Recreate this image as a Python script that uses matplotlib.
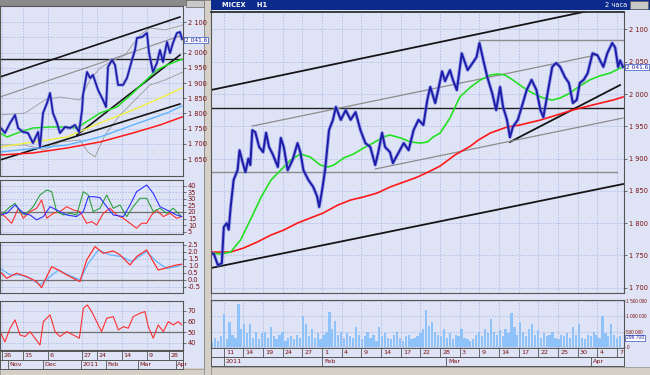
import matplotlib
matplotlib.use('Agg')
import matplotlib.pyplot as plt
from matplotlib.patches import Rectangle
import numpy as np

# ---------------- DATA ----------------
# Right chart (2-hour bars, x = bar index, bar 0 = 11 Jan)
r_price_x = [-13, -10, -6, -2, 0, 3, 5, 7, 10, 14, 16, 19, 22, 25, 27, 29, 32, 36, 40, 43, 46, 50, 55, 58, 61,
             65, 70, 75, 78, 81, 86, 91, 95, 97, 100, 103, 107, 111, 114, 119, 124, 129, 134, 139, 144, 149,
             154, 157, 161, 164, 169, 172, 178, 183, 188, 193, 198, 203, 207, 210, 215, 218, 222, 225, 230,
             233, 237, 242, 248, 253, 257, 260, 264, 268, 273, 277, 281, 284, 288, 291, 294, 299, 303, 308,
             313, 318, 322, 325, 328, 334, 338, 342, 347, 351, 355, 359, 362, 366, 370, 375, 380, 386, 390,
             395, 398, 401, 403, 406]
r_price_y = [1754, 1752, 1735, 1738, 1794, 1800, 1790, 1825, 1867, 1882, 1913, 1895, 1879, 1900, 1890, 1944,
             1941, 1918, 1910, 1940, 1918, 1906, 1887, 1932, 1918, 1882, 1898, 1924, 1909, 1882, 1867, 1856,
             1841, 1825, 1851, 1882, 1944, 1960, 1980, 1960, 1975, 1960, 1972, 1944, 1924, 1918, 1890, 1909,
             1940, 1918, 1910, 1893, 1910, 1924, 1913, 1944, 1960, 1952, 1991, 2011, 1986, 2006, 2035, 2020,
             2037, 2022, 2006, 2063, 2037, 2048, 2057, 2079, 2052, 2026, 2001, 1975, 2011, 1980, 1960, 1933,
             1949, 1960, 1980, 2006, 2022, 2006, 1975, 1964, 1990, 2042, 2048, 2042, 2026, 2017, 1986, 1991,
             2017, 2022, 2032, 2063, 2060, 2042, 2063, 2079, 2072, 2042, 2052, 2042]
r_green_x = [-13, -3, 7, 17, 27, 38, 48, 58, 68, 78, 88, 98, 106, 112, 122, 132, 142, 152, 162, 169, 180, 190,
             200, 207, 213, 220, 230, 240, 251, 261, 271, 279, 286, 294, 304, 314, 325, 334, 342, 352, 362,
             372, 382, 393, 403, 406]
r_green_y = [1753.8, 1752.2, 1755.3, 1773.9, 1804.9, 1840.5, 1866.8, 1882.3, 1897.8, 1907.1, 1902.4, 1890.1,
             1887.0, 1890.1, 1900.9, 1907.1, 1916.4, 1924.1, 1933.4, 1936.5, 1931.9, 1925.7, 1924.1, 1925.7,
             1933.4, 1939.6, 1962.8, 1995.4, 2010.8, 2021.7, 2029.4, 2031.0, 2029.4, 2021.7, 2010.8, 2001.5,
             1993.8, 1990.7, 1993.8, 2001.5, 2012.4, 2021.7, 2027.9, 2032.5, 2040.3, 2041.8]
r_red_x = [-13, 7, 20, 34, 48, 61, 75, 88, 101, 116, 129, 142, 156, 169, 183, 197, 210, 220, 235, 251, 259,
           271, 288, 301, 322, 332, 355, 375, 396, 406]
r_red_y = [1755.3, 1755.3, 1761.5, 1770.8, 1781.7, 1789.4, 1800.2, 1808.0, 1815.7, 1828.1, 1835.9, 1840.5,
           1846.7, 1856.0, 1863.7, 1871.5, 1880.8, 1888.5, 1905.5, 1919.5, 1928.8, 1939.6, 1948.9, 1952.0,
           1959.7, 1964.4, 1975.2, 1983.0, 1990.7, 1995.4]
r_black_lines = [((-13, 2006.2), (375, 2130.0)),
                 ((-13, 1730.6), (406, 1860.6)),
                 ((291, 1925.7), (403, 2013.9))]
r_gray_lines = [((29, 1950.4), (379, 2060.4)),
                ((154, 1883.9), (406, 1962.8))]
r_level_black = 1978.3
r_level_gray = 1879.2
r_level_high = 2083.6
r_last = 2041.6
volume_k = [150, 300, 200, 350, 1070, 250, 800, 400, 300, 1400,
            600, 750, 450, 750, 300, 500, 250, 450, 500, 300,
            650, 350, 250, 400, 500, 200, 300, 350, 250, 400,
            300, 1000, 750, 350, 600, 300, 450, 250, 400, 500,
            1150, 600, 850, 400, 500, 300, 450, 350, 300, 650,
            400, 250, 350, 500, 300, 400, 200, 650, 350, 450,
            300, 250, 400, 500, 300, 200, 350, 400, 250, 300,
            350, 450, 600, 1200, 700, 800, 500, 400, 350, 600,
            300, 450, 250, 400, 350, 600, 300, 250, 200, 250,
            400, 500, 350, 600, 450, 900, 500, 400, 550, 350,
            600, 450, 1100, 650, 400, 800, 500, 350, 600, 750,
            400, 550, 300, 450, 350, 400, 500, 300, 250, 400,
            350, 450, 300, 650, 400, 750, 300, 250, 400, 350,
            500, 400, 300, 1000, 450, 350, 750, 400, 300, 350]
r_day_labels = ['11', '14', '19', '24', '27', '1', '4', '9', '14', '17', '22', '28', '3', '9', '14', '17',
                '22', '25', '30', '4', '7']
r_day_pos = list(range(0, 420, 20))
r_month_labels = ['2011', 'Feb', 'Mar', 'Apr']
r_month_pos = [0, 100, 226, 373]

# Left chart (daily, x = session index)
l_price_x = [0, 3.1, 6.3, 9.4, 11.3, 14.4, 17.5, 20.6, 23.8, 25, 26.9, 29.4, 31.3, 33.1, 35.6, 37.5, 40.6,
             43.8, 46.9, 49.4, 51.3, 51.9, 54.4, 56.3, 58.1, 61.3, 64.4, 66.3, 67.5, 70, 71.9, 73.8, 76.9,
             79.4, 82.5, 84.4, 85.6, 88.8, 91.9, 93.1, 95.6, 98.1, 100, 101.9, 104.4, 106.3, 108.1, 110.6,
             112.5, 113.8]
l_price_y = [1755.6, 1735.9, 1768.8, 1795.1, 1752.3, 1739.1, 1735.9, 1703.0, 1739.1, 1689.8, 1801.6, 1834.5,
             1867.4, 1801.6, 1768.8, 1735.9, 1755.6, 1752.3, 1762.2, 1739.1, 1811.5, 1860.9, 1936.5, 1916.8,
             1926.6, 1877.3, 1844.4, 1821.4, 1953.0, 1976.0, 1959.5, 1893.8, 1893.8, 1916.8, 1976.0, 2008.9,
             2048.4, 2051.6, 2064.8, 2002.3, 1936.5, 1966.1, 2008.9, 1969.4, 2035.2, 1999.0, 2031.9, 2064.8,
             2068.1, 2045.0]
l_green_x = [0, 4.4, 12.5, 20.6, 31.3, 41.9, 48.1, 62.5, 73.1, 83.1, 89.4, 98.1, 104.4, 112.5, 114.4]
l_green_y = [1735.9, 1722.7, 1739.1, 1752.3, 1755.6, 1755.6, 1752.3, 1801.6, 1821.4, 1867.4, 1900.3, 1943.1,
             1959.5, 1976.0, 1979.3]
l_yellow_x = [0, 41.9, 62.5, 83.1, 104.4, 113.8]
l_yellow_y = [1689.8, 1722.7, 1768.8, 1811.5, 1860.9, 1883.9]
l_lblue_x = [0, 41.9, 62.5, 83.1, 104.4, 113.8]
l_lblue_y = [1673.4, 1696.4, 1722.7, 1762.2, 1801.6, 1824.7]
l_red_x = [0, 20.6, 41.9, 62.5, 83.1, 100, 113.8]
l_red_y = [1663.5, 1670.1, 1686.5, 1706.3, 1735.9, 1762.2, 1788.5]
l_bbup_x = [0, 15.6, 28.1, 37.5, 50, 56.3, 62.5, 68.8, 78.1, 87.5, 93.8, 103.1, 114.4]
l_bbup_y = [1795.1, 1801.6, 1844.4, 1854.3, 1844.4, 1910.2, 1949.7, 1969.4, 1992.4, 2058.2, 2081.3, 2074.7, 2091.1]
l_bblo_x = [0, 15.6, 28.1, 37.5, 50, 55, 59.4, 65.6, 75, 84.4, 93.8, 103.1, 114.4]
l_bblo_y = [1696.4, 1696.4, 1680.0, 1706.3, 1712.8, 1673.4, 1657.0, 1729.3, 1795.1, 1844.4, 1893.8, 1910.2, 1936.5]
l_black_lines = [((0, 1920.1), (112.5, 2117.4)),
                 ((0, 1647.0), (112.5, 1831.3)),
                 ((48.1, 1729.3), (112.5, 1992.4))]
l_gray_lines = [((0, 1854.3), (112.5, 2054.9))]

adx_x = [0, 4.2, 9.4, 14.6, 18.8, 22.9, 27.1, 31.3, 35.4, 41.7, 47.9, 52.1, 55.2, 58.3, 62.5, 66.7, 70.8,
         77.1, 81.3, 85.4, 91.7, 95.8, 100, 106.3, 110.4, 113.5]
adx_y = [17.7, 19, 25.3, 19, 17.7, 14, 16.5, 24, 21.5, 17.7, 16.5, 20.3, 31.6, 31.6, 30.9, 24, 17.7, 16.5,
         25.3, 35.4, 40.5, 34.2, 24, 20.3, 17.7, 16.5]
pdi_x = [0, 5.2, 9.4, 12.5, 15.6, 20.8, 25, 29.2, 32.3, 35.4, 39.6, 43.8, 47.9, 52.1, 55.2, 58.3, 62.5, 66.7,
         70.8, 75, 79.2, 83.3, 87.5, 91.7, 95.8, 100, 104.2, 108.3, 113.5]
pdi_y = [16.5, 22.8, 26.6, 20.3, 17.7, 24, 32.9, 36.7, 35.4, 20.3, 17.7, 19, 17.7, 35.4, 32.9, 20.3, 22.8,
         32.9, 22.8, 25.3, 16.5, 24, 30.4, 30.4, 20.3, 22.8, 19, 22.8, 16.5]
mdi_x = [0, 3.1, 7.3, 11.5, 14.6, 18.8, 22.9, 26, 29.2, 33.3, 37.5, 41.7, 45.8, 50, 54.2, 57.3, 60.4, 64.6,
         68.8, 72.9, 77.1, 81.3, 85.4, 88.5, 91.7, 94.8, 97.9, 102.1, 106.3, 110.4, 113.5]
mdi_y = [19, 16.5, 11.4, 22.8, 15.2, 20.3, 22.8, 29.1, 15.2, 19, 20.3, 24, 21.5, 20.3, 11.4, 12.7, 10.1, 19,
         22.8, 17.7, 15.2, 11.4, 7.6, 11.4, 11.4, 17.7, 21.5, 16.5, 19, 15.2, 16.5]
macd_x = [0, 4.2, 10.4, 16.7, 22.9, 26, 29.2, 32.3, 36.5, 41.7, 47.9, 50, 54.2, 59.4, 64.6, 70.8, 75, 81.3,
          85.4, 91.7, 95.8, 98.9, 103.1, 106.3, 110.4, 113.5]
macd_y = [0.6, 0.12, 0.48, 0.24, -0.12, -0.55, 0.24, 0.95, 0.71, 0.36, 0, -0.12, 1.43, 2.38, 1.9, 2.07, 1.79,
          1.07, 1.67, 2.14, 1.31, 0.71, 0.83, 0.95, 1.07, 1.12]
sig_x = [0, 6.3, 12.5, 18.8, 25, 31.3, 36.5, 42.7, 50, 55.2, 61.5, 68.8, 76, 82.3, 91.7, 97.9, 104.2, 110.4, 113.5]
sig_y = [0.83, 0.36, 0.36, 0.12, -0.36, 0.24, 0.71, 0.36, 0, 1.19, 2.14, 1.79, 1.67, 1.31, 2.02, 1.31, 0.83,
         0.95, 1.12]
rsi_x = [0, 3.1, 6.3, 9.4, 12.5, 15.6, 18.8, 21.9, 25, 27.1, 31.3, 34.4, 37.5, 41.7, 45.8, 49.6, 52.1, 54.6,
         57.3, 60.4, 63.5, 66.7, 70.8, 74, 77.1, 80.2, 83.3, 87.5, 90.6, 92.7, 95.8, 98.9, 102.1, 105.2, 108.3,
         111.5, 113.5]
rsi_y = [50.6, 41, 53.8, 61.6, 47.5, 46, 50.6, 44.4, 38.1, 60, 66.3, 50.6, 46, 50.6, 47.5, 44.4, 72.5, 75.6,
         69.4, 60, 50.6, 63.1, 64.7, 52.2, 55.3, 53.8, 64.7, 67.8, 69.4, 55.3, 44.4, 56.9, 50.6, 60, 56.9, 60,
         56.9]
l_day_labels = ['26', '15', '6', '27', '24', '14', '9', '28']
l_day_pos = [1.25, 14.4, 30, 51.3, 60.6, 76.3, 91.9, 105.6]
l_month_labels = ['Nov', 'Dec', '2011', 'Feb', 'Mar', 'Apr']
l_month_pos = [5, 26.9, 50.6, 66.3, 86.3, 110]

# ---------------- STYLE ----------------
W, H = 650, 375
BG = '#dfe3f6'
GRID = '#a3b2e0'
MAROON = '#7a1010'
FRAME = '#555555'
PRICE = '#1c1ca8'
plt.rcParams['font.family'] = ['DejaVu Sans']

fig = plt.figure(figsize=(6.5, 3.75), dpi=100)
fig.patch.set_facecolor('#d4d0c8')


def add_ax(x0, y0, x1, y1):
    ax = fig.add_axes([x0 / W, 1 - y1 / H, (x1 - x0) / W, (y1 - y0) / H])
    ax.set_facecolor(BG)
    return ax


def rect(x, y, w, h, fc, ec='none', lw=0, z=-5):
    fig.patches.append(Rectangle((x / W, 1 - (y + h) / H), w / W, h / H, transform=fig.transFigure,
                                 facecolor=fc, edgecolor=ec, linewidth=lw, zorder=z))


def fmt_price(v):
    return f'{int(round(v)):,}'.replace(',', ' ')


def style(ax, xlim, ylim, yticks, ylabels, xgrid, lsize=4.8):
    ax.set_xlim(*xlim)
    ax.set_ylim(*ylim)
    ax.set_yticks(yticks)
    ax.set_yticklabels(ylabels)
    ax.yaxis.tick_right()
    ax.tick_params(axis='y', labelsize=lsize, labelcolor=MAROON, length=2, pad=1.5, color='#404040', width=0.5)
    ax.set_xticks(xgrid)
    ax.tick_params(axis='x', length=0, labelbottom=False)
    ax.grid(True, color=GRID, lw=0.5, ls=(0, (2, 2)))
    ax.set_axisbelow(True)
    for s in ax.spines.values():
        s.set_color(FRAME)
        s.set_linewidth(0.8)


# window chrome
rect(0, 5, 204, 363, BG)
rect(211, 10, 439, 357, BG)
rect(0, 0, 204, 6, '#8a8a8a')
rect(186, 0, 18, 7, '#c8c8c8', '#606060', 0.5)
rect(204, 0, 7, 375, '#d4d0c8', '#808080', 0.6)
rect(211, 0, 439, 10, '#0c2a8c')
rect(630, 1, 18, 8, '#c8c8c8', '#606060', 0.5)
rect(0, 369, 204, 6, '#d4d0c8', '#909090', 0.5)
rect(211, 367, 439, 8, '#d4d0c8', '#909090', 0.5)
fig.text(222 / W, 1 - 5 / H, 'MICEX     H1', color='white', fontsize=4.8, fontweight='bold', va='center')
fig.text(627 / W, 1 - 5 / H, '2 часа', color='white', fontsize=4.8, va='center', ha='right')

# ---------------- RIGHT MAIN ----------------
rx = (-13, 407)
ax = add_ax(211, 12, 624, 293)
pt = list(range(1700, 2101, 50))
style(ax, rx, (1691.9, 2127), pt, [fmt_price(v) for v in pt], r_day_pos)
ax.spines['top'].set_color('#202020')
ax.spines['top'].set_linewidth(1.2)
ax.axhline(r_level_black, color='#202020', lw=1.0)
ax.plot([-13, 400], [r_level_gray, r_level_gray], color='#8c8c8c', lw=1.0)
ax.plot([260, 406], [r_level_high, r_level_high], color='#8c8c8c', lw=1.0)
for (a, b) in r_black_lines:
    ax.plot([a[0], b[0]], [a[1], b[1]], color='#151515', lw=1.3)
for (a, b) in r_gray_lines:
    ax.plot([a[0], b[0]], [a[1], b[1]], color='#8c8c8c', lw=0.9)
ax.plot(r_red_x, r_red_y, color='#ff1818', lw=1.2)
ax.plot(r_green_x, r_green_y, color='#22e022', lw=1.2)
ax.plot(r_price_x, r_price_y, color='#6f78e0', lw=2.6, alpha=0.6)
ax.plot(r_price_x, r_price_y, color=PRICE, lw=1.4)
ax.text(1.005, (r_last - 1691.9) / (2127 - 1691.9), f'{r_last:,.1f}'.replace(',', ' '), transform=ax.transAxes,
        fontsize=4.2, color='#1c1ca8', va='center', ha='left',
        bbox=dict(boxstyle='square,pad=0.12', fc='white', ec='#3050c0', lw=0.5))

# ---------------- RIGHT VOLUME ----------------
av = add_ax(211, 300, 624, 348)
vt = [0, 500000, 1000000, 1500000]
style(av, rx, (-32600, 1532600), vt, ['0', '500 000', '1 000 000', '1 500 000'], r_day_pos, lsize=3.4)
av.tick_params(axis='y', length=1, pad=0.8)
for t in av.get_yticklabels():
    t.set_fontfamily('Liberation Sans')
vol = np.array(volume_k) * 1000
vol_x = np.linspace(-12, 403, len(vol))
av.bar(vol_x, vol, width=2.3, color='#8fc2f8', edgecolor='none')
av.text(1.005, (296700 + 32600) / 1565200, '296 700', transform=av.transAxes, fontsize=3.6, color='#1c1ca8',
        va='center', ha='left', family='Liberation Sans',
        bbox=dict(boxstyle='square,pad=0.12', fc='white', ec='#3050c0', lw=0.5))

# ---------------- RIGHT DATES ----------------
ad = add_ax(211, 348, 624, 366)
ad.set_xlim(*rx)
ad.set_ylim(0, 2)
ad.set_xticks([])
ad.set_yticks([])
for s in ad.spines.values():
    s.set_color(FRAME)
    s.set_linewidth(0.7)
ad.axhline(1, color=FRAME, lw=0.7)
for p, lab in zip(r_day_pos, r_day_labels):
    ad.plot([p, p], [1, 2], color=FRAME, lw=0.6)
    ad.text(p + 2, 1.5, lab, fontsize=4.6, color=MAROON, va='center', ha='left')
for p, lab in zip(r_month_pos, r_month_labels):
    ad.plot([p, p], [0, 1], color=FRAME, lw=0.6)
    ad.text(p + 2, 0.5, lab, fontsize=4.6, color=MAROON, va='center', ha='left')

# ---------------- LEFT MAIN ----------------
lx = (0, 114.4)
al = add_ax(0, 6, 183, 176)
lt = list(range(1650, 2101, 50))
# the last-price box hides the 2 050 label, as in the original
style(al, lx, (1594.4, 2153.6), lt, ['' if v == 2050 else fmt_price(v) for v in lt], l_day_pos)
al.axhline(r_level_black, color='#202020', lw=1.0)
al.plot(l_bbup_x, l_bbup_y, color='#9a9a9a', lw=0.6)
al.plot(l_bblo_x, l_bblo_y, color='#9a9a9a', lw=0.6)
for (a, b) in l_gray_lines:
    al.plot([a[0], b[0]], [a[1], b[1]], color='#8c8c8c', lw=0.8)
for (a, b) in l_black_lines:
    al.plot([a[0], b[0]], [a[1], b[1]], color='#151515', lw=1.2)
al.plot(l_red_x, l_red_y, color='#ff1818', lw=1.1)
al.plot(l_lblue_x, l_lblue_y, color='#60b4ff', lw=1.0)
al.plot(l_yellow_x, l_yellow_y, color='#f0f040', lw=1.0)
al.plot(l_green_x, l_green_y, color='#22e022', lw=1.1)
al.plot(l_price_x, l_price_y, color='#6f78e0', lw=2.3, alpha=0.6)
al.plot(l_price_x, l_price_y, color=PRICE, lw=1.2)
al.text(1.01, (r_last - 1594.4) / (2153.6 - 1594.4), f'{r_last:,.1f}'.replace(',', ' '), transform=al.transAxes,
        fontsize=4.2, color='#1c1ca8', va='center', ha='left',
        bbox=dict(boxstyle='square,pad=0.12', fc='white', ec='#3050c0', lw=0.5))

# ---------------- LEFT INDICATORS ----------------
a1 = add_ax(0, 180, 183, 234)
t1 = list(range(5, 41, 5))
style(a1, lx, (3.24, 44.3), t1, [str(v) for v in t1], l_day_pos)
a1.axhline(20, color='#707070', lw=0.9)
a1.plot(mdi_x, mdi_y, color='#ff3030', lw=0.8)
a1.plot(pdi_x, pdi_y, color='#30a040', lw=0.8)
a1.plot(adx_x, adx_y, color='#3030ff', lw=0.8)

a2 = add_ax(0, 242, 183, 293)
t2 = [-0.5, 0.0, 0.5, 1.0, 1.5, 2.0, 2.5]
style(a2, lx, (-0.93, 2.71), t2, [f'{v:.1f}' for v in t2], l_day_pos)
a2.axhline(0, color='#707070', lw=0.9)
a2.plot(sig_x, sig_y, color='#60b4ff', lw=0.9)
a2.plot(macd_x, macd_y, color='#ff3030', lw=0.9)

a3 = add_ax(0, 301, 183, 350)
t3 = [40, 50, 60, 70]
style(a3, lx, (33.4, 79.3), t3, [str(v) for v in t3], l_day_pos)
a3.axhline(50, color='#707070', lw=0.9)
a3.plot(rsi_x, rsi_y, color='#ff3030', lw=0.8)

# ---------------- LEFT DATES ----------------
ld = add_ax(0, 351, 183, 369)
ld.set_xlim(*lx)
ld.set_ylim(0, 2)
ld.set_xticks([])
ld.set_yticks([])
for s in ld.spines.values():
    s.set_color(FRAME)
    s.set_linewidth(0.7)
ld.axhline(1, color=FRAME, lw=0.7)
for p, lab in zip(l_day_pos, l_day_labels):
    ld.plot([p, p], [1, 2], color=FRAME, lw=0.6)
    ld.text(p + 0.8, 1.5, lab, fontsize=4.6, color=MAROON, va='center', ha='left')
for p, lab in zip(l_month_pos, l_month_labels):
    ld.plot([p, p], [0, 1], color=FRAME, lw=0.6)
    ld.text(p + 0.8, 0.5, lab, fontsize=4.6, color=MAROON, va='center', ha='left')

fig.savefig('out.png', dpi=100, facecolor=fig.get_facecolor())
